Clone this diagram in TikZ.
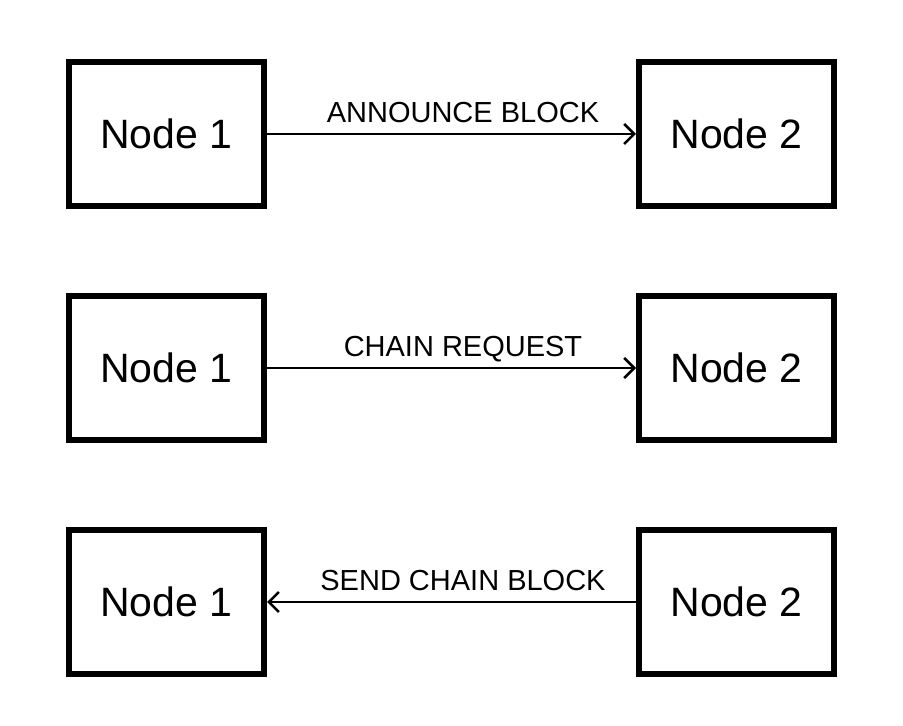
\documentclass[tikz,border=0pt]{standalone}
\usepackage{fontspec}
\setmainfont{Liberation Sans}
\usetikzlibrary{arrows.meta}
\begin{document}
\begin{tikzpicture}[x=1pt,y=1pt,
  box/.style={draw=black,line width=6pt,minimum width=195pt,minimum height=144pt,inner sep=0pt,font=\fontsize{41}{48}\selectfont},
  conn/.style={line width=2.6pt,-{Straight Barb[length=10pt,width=20pt,line width=2.6pt]}},
  lbl/.style={font=\fontsize{29}{34}\selectfont,anchor=base,inner sep=0pt}]
\useasboundingbox[fill=white] (0,0) rectangle (903,726);
% row 1
\node[box] (a1) at (166.5,592) {Node 1};
\node[box] (b1) at (736.5,592) {Node 2};
\draw[conn] (a1.east) -- (b1.west);
\node[lbl] (l1) at (463,603) {ANNOUNCE BLOCK};
% row 2
\node[box] (a2) at (166.5,358) {Node 1};
\node[box] (b2) at (736.5,358) {Node 2};
\draw[conn] (a2.east) -- (b2.west);
\node[lbl] (l2) at (463,369) {CHAIN REQUEST};
% row 3
\node[box] (a3) at (166.5,124) {Node 1};
\node[box] (b3) at (736.5,124) {Node 2};
\draw[conn] (b3.west) -- (a3.east);
\node[lbl] (l3) at (463,135) {SEND CHAIN BLOCK};
\end{tikzpicture}
\end{document}
